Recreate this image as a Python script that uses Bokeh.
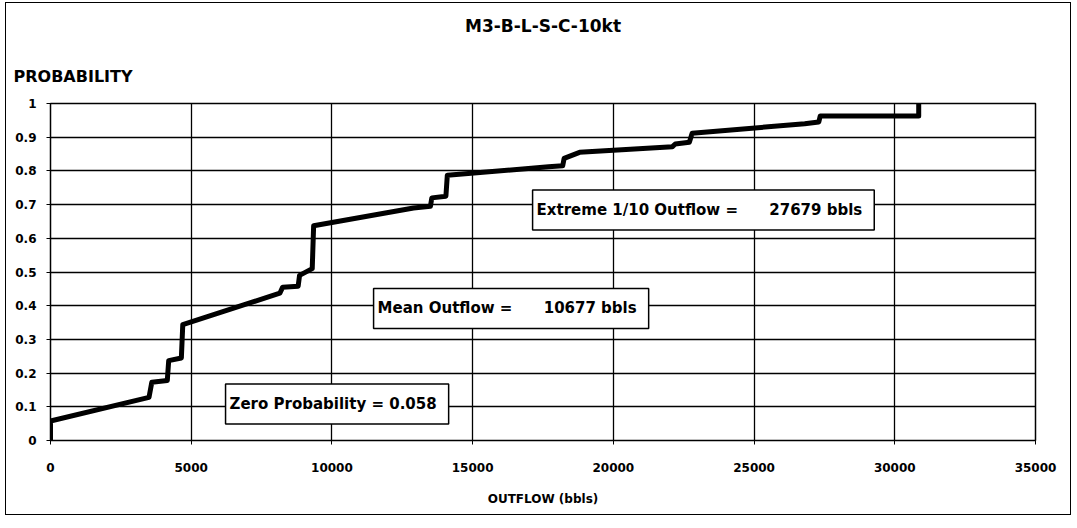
from bokeh.plotting import figure
from bokeh.models import Label, Range1d, FixedTicker, NumeralTickFormatter, Title
from bokeh.embed import file_html
from bokeh.resources import INLINE

# ---- data ----
outflow = [0, 0, 3500, 3600, 4150, 4200, 4650, 4700, 8150, 8250, 8800, 8850,
           9300, 9350, 12900, 13500, 13550, 14050, 14100, 17700, 18200, 18250,
           18800, 22100, 22200, 22700, 22800, 26800, 27300, 27350, 30850, 30850]
probability = [0, 0.058, 0.128, 0.173, 0.178, 0.237, 0.245, 0.344, 0.437, 0.455,
               0.458, 0.49, 0.51, 0.637, 0.69, 0.695, 0.72, 0.725, 0.787, 0.812,
               0.815, 0.837, 0.855, 0.872, 0.88, 0.885, 0.912, 0.94, 0.945, 0.963,
               0.963, 1.0]

x_ticks = [0, 5000, 10000, 15000, 20000, 25000, 30000, 35000]
y_ticks = [0, 0.1, 0.2, 0.3, 0.4, 0.5, 0.6, 0.7, 0.8, 0.9, 1]

title_text = "M3-B-L-S-C-10kt"
y_title = "PROBABILITY"
x_title = "OUTFLOW (bbls)"
zero_probability = "0.058"
mean_outflow = "10677"
extreme_outflow = "27679"

FONT = "DejaVu Sans"
NB = "\u00a0"

p = figure(width=1066, height=513, output_backend="svg", toolbar_location=None,
           x_range=Range1d(0, 35000), y_range=Range1d(0, 1), title=None,
           min_border_left=44, min_border_right=37, min_border_top=100,
           min_border_bottom=76)
p.styles = {"border": "1px solid black", "margin": "2px 0px 0px 5px"}
p.background_fill_color = "white"
p.border_fill_color = "white"
p.outline_line_color = "black"
p.outline_line_width = 1.5

# axes
p.xaxis.ticker = FixedTicker(ticks=x_ticks)
p.yaxis.ticker = FixedTicker(ticks=y_ticks)
p.xaxis.formatter = NumeralTickFormatter(format="0")
p.yaxis.formatter = NumeralTickFormatter(format="0.[0]")
for ax in (p.xaxis, p.yaxis):
    ax.axis_line_color = "black"
    ax.major_tick_line_color = "black"
    ax.major_tick_out = 4
    ax.major_tick_in = 0
    ax.minor_tick_out = 0
    ax.minor_tick_in = 0
    ax.major_label_text_font = FONT
    ax.major_label_text_font_style = "bold"
    ax.major_label_text_font_size = "12px"
    ax.major_label_text_color = "black"
p.xaxis.major_label_standoff = 18
p.yaxis.major_label_standoff = 10
p.xaxis.axis_label = x_title
p.xaxis.axis_label_standoff = 17
p.xaxis.axis_label_text_font = FONT
p.xaxis.axis_label_text_font_style = "bold"
p.xaxis.axis_label_text_font_size = "12px"
p.xaxis.axis_label_text_color = "black"

# grid
for g in (p.xgrid, p.ygrid):
    g.grid_line_color = "black"
    g.grid_line_width = 1.3
    g.grid_line_alpha = 1.0

# curve
p.line(outflow, probability, line_width=5, line_color="black", line_join="round")

# y-axis title (horizontal, above the axis) and chart title
p.add_layout(Title(text=y_title, align="left", offset=-37, standoff=36,
                   text_font=FONT, text_font_style="bold", text_font_size="16px",
                   text_color="black"), "above")
p.add_layout(Title(text=title_text, align="center", standoff=21,
                   text_font=FONT, text_font_style="bold", text_font_size="17px",
                   text_color="black"), "above")

# annotation boxes
def box(x, y, txt):
    return Label(x=x, y=y, text=txt, text_align="left", text_baseline="middle",
                 text_font=FONT, text_font_style="bold", text_font_size="15px",
                 text_color="black", background_fill_color="white",
                 border_line_color="black", border_line_width=1.5,
                 padding=dict(left=4, right=12, top=11, bottom=11))

p.add_layout(box(6220, 0.108, "Zero Probability = " + zero_probability))
p.add_layout(box(11480, 0.392, "Mean Outflow =" + NB * 6 + mean_outflow + " bbls"))
p.add_layout(box(17130, 0.684, "Extreme 1/10 Outflow =" + NB * 6 + extreme_outflow + " bbls"))

open("out.html", "w").write(file_html(p, INLINE))
